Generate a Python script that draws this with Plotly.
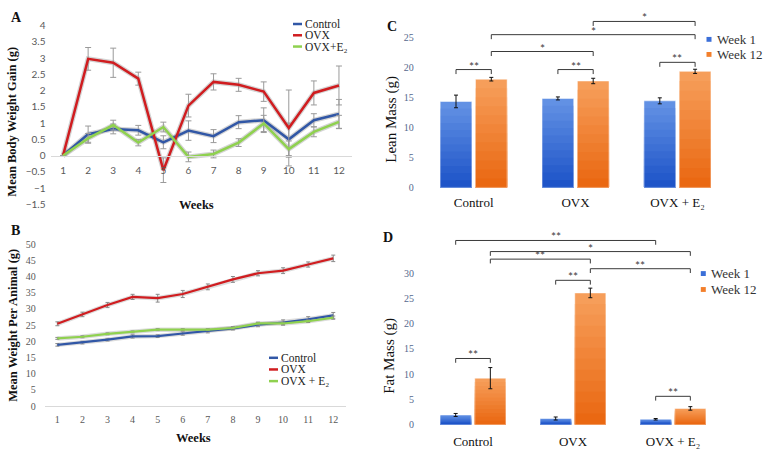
import plotly.graph_objects as go

W, H = 772, 460


def fx(p):
    return p / W


def fy(p):
    return 1 - p / H


# ---------------- data ----------------
weeks = list(range(1, 13))

# Panel A: mean body weight gain (g)
gain_control = [0, 0.66, 0.82, 0.78, 0.41, 0.77, 0.60, 1.03, 1.09, 0.50, 1.09, 1.28]
gain_ovx = [0, 2.98, 2.86, 2.37, -0.45, 1.54, 2.27, 2.18, 1.97, 0.85, 1.93, 2.16]
gain_e2 = [0, 0.53, 0.94, 0.40, 0.88, -0.04, 0.05, 0.40, 0.99, 0.20, 0.73, 1.04]
gain_control_err = [0, 0.25, 0.15, 0.15, 0.2, 0.3, 0.2, 0.2, 0.38, 0.5, 0.2, 0.45]
gain_ovx_err = [0, 0.35, 0.45, 0.2, 0.38, 0.35, 0.25, 0.2, 0.3, 1.17, 0.37, 0.6]
gain_e2_err = [0, 0.15, 0.15, 0.1, 0.15, 0.15, 0.12, 0.12, 0.25, 0.25, 0.15, 0.2]

# Panel B: mean weight per animal (g)
weight_control = [18.9, 19.6, 20.5, 21.5, 21.6, 22.4, 23.1, 24.0, 25.1, 25.8, 26.8, 28.0]
weight_ovx = [25.4, 28.3, 31.2, 33.7, 33.3, 34.6, 36.8, 39.1, 41.0, 41.8, 43.7, 45.6]
weight_e2 = [20.9, 21.4, 22.3, 22.9, 23.6, 23.6, 23.6, 24.1, 25.5, 25.5, 26.2, 27.3]
weight_control_err = [0.4, 0.4, 0.4, 0.5, 0.4, 0.5, 0.5, 0.5, 0.6, 0.8, 0.8, 0.9]
weight_ovx_err = [0.6, 0.7, 0.8, 0.8, 1.2, 1.1, 0.9, 0.9, 0.8, 0.9, 0.8, 1.0]
weight_e2_err = [0.3, 0.3, 0.3, 0.3, 0.3, 0.3, 0.3, 0.3, 0.4, 0.4, 0.4, 0.5]

line_names_a = ["Control", "OVX", "OVX+E\u2082"]
line_names_b = ["Control", "OVX", "OVX + E\u2082"]

# Panels C / D
categories = ["Control", "OVX", "OVX + E\u2082"]
bar_series = ["Week 1", "Week 12"]
lean_w1 = [14.3, 14.8, 14.4]
lean_w1_err = [1.05, 0.25, 0.5]
lean_w12 = [18.0, 17.7, 19.3]
lean_w12_err = [0.3, 0.45, 0.35]
fat_w1 = [1.9, 1.2, 1.05]
fat_w1_err = [0.3, 0.3, 0.15]
fat_w12 = [9.2, 26.1, 3.2]
fat_w12_err = [2.1, 0.95, 0.35]

# significance brackets: (group a, week index a, group b, week index b, level, label)
sig_c = [
    (0, 0, 0, 1, 19.6, "**"),
    (1, 0, 1, 1, 19.6, "**"),
    (2, 0, 2, 1, 20.8, "**"),
    (0, 1, 1, 1, 22.6, "*"),
    (0, 1, 2, 1, 25.4, "*"),
    (1, 1, 2, 1, 27.6, "*"),
]
sig_d = [
    (0, 0, 2, 0, 36.5, "**"),
    (0, 1, 2, 1, 34.3, "*"),
    (0, 1, 1, 1, 32.8, "**"),
    (1, 1, 2, 1, 30.9, "**"),
    (1, 0, 1, 1, 28.6, "**"),
    (0, 0, 0, 1, 13.1, "**"),
    (2, 0, 2, 1, 5.6, "**"),
]

# ---------------- style ----------------
line_colors = ["#3157a6", "#d01d20", "#8fd14f"]
bar_colors = ["#3b6fd8", "#f37f2b"]
bar_top = [(98, 145, 228), (246, 158, 90)]
bar_bottom = [(30, 84, 200), (234, 104, 18)]
SERIF = "Liberation Serif, Times New Roman, serif"
SANS = "Lato, Carlito, Calibri, sans-serif"
BARGAP = 0.307
BARGROUPGAP = 0.103
N_BANDS = 12

fig = go.Figure()

# ---------------- panel A ----------------
for ys in [gain_control, gain_ovx, gain_e2]:
    fig.add_trace(go.Scatter(x=weeks, y=ys, mode="lines", showlegend=False, hoverinfo="skip",
                             line=dict(color="rgba(60,60,60,0.22)", width=5),
                             xaxis="x", yaxis="y"))
for name, ys, es, col in zip(line_names_a, [gain_control, gain_ovx, gain_e2],
                             [gain_control_err, gain_ovx_err, gain_e2_err], line_colors):
    fig.add_trace(go.Scatter(
        x=weeks, y=ys, mode="lines", name=name, showlegend=False,
        line=dict(color=col, width=2.5),
        error_y=dict(type="data", array=es, color="#9a9a9a", thickness=1, width=3),
        xaxis="x", yaxis="y"))

# ---------------- panel B ----------------
for ys in [weight_control, weight_ovx, weight_e2]:
    fig.add_trace(go.Scatter(x=weeks, y=ys, mode="lines", showlegend=False, hoverinfo="skip",
                             line=dict(color="rgba(60,60,60,0.18)", width=4.5),
                             xaxis="x2", yaxis="y2"))
for name, ys, es, col in zip(line_names_b, [weight_control, weight_ovx, weight_e2],
                             [weight_control_err, weight_ovx_err, weight_e2_err], line_colors):
    fig.add_trace(go.Scatter(
        x=weeks, y=ys, mode="lines", name=name, showlegend=False,
        line=dict(color=col, width=2.2),
        error_y=dict(type="data", array=es, color="#8a8a8a", thickness=1, width=2),
        xaxis="x2", yaxis="y2"))

# ---------------- panels C and D (vertical gradient bars) ----------------
cat_idx = list(range(len(categories)))


def mix(c1, c2, t):
    return "rgb(%d,%d,%d)" % tuple(round(a + (b - a) * t) for a, b in zip(c1, c2))


for ax, vals, errs in [("3", [lean_w1, lean_w12], [lean_w1_err, lean_w12_err]),
                       ("4", [fat_w1, fat_w12], [fat_w1_err, fat_w12_err])]:
    for si, (sname, v, e) in enumerate(zip(bar_series, vals, errs)):
        # nested bands: tallest (lightest) first, shorter darker ones on top
        for k in range(N_BANDS):
            frac = (N_BANDS - k) / N_BANDS
            fig.add_trace(go.Bar(
                x=cat_idx, y=[val * frac for val in v], name=sname, showlegend=False,
                offsetgroup=sname, hoverinfo="skip",
                marker=dict(color=mix(bar_top[si], bar_bottom[si], k / (N_BANDS - 1)),
                            line=dict(width=0)),
                xaxis="x" + ax, yaxis="y" + ax))
        fig.add_trace(go.Bar(
            x=cat_idx, y=v, name=sname, showlegend=False, offsetgroup=sname,
            marker=dict(color="rgba(0,0,0,0)", line=dict(color="rgba(255,255,255,0.5)", width=1)),
            error_y=dict(type="data", array=e, color="#111111", thickness=1, width=2),
            xaxis="x" + ax, yaxis="y" + ax))

# ---------------- axes ----------------
A_dom_y = [fy(203.0), fy(19.3)]
A_range = [-1.5, 4]
zero_pos = A_dom_y[0] + (0 - A_range[0]) / (A_range[1] - A_range[0]) * (A_dom_y[1] - A_dom_y[0])

fig.update_layout(
    width=W, height=H,
    margin=dict(l=0, r=0, t=0, b=0),
    paper_bgcolor="white", plot_bgcolor="white",
    barmode="group", bargap=BARGAP, bargroupgap=BARGROUPGAP,
    showlegend=False,
    xaxis=dict(domain=[fx(50.5), fx(351.5)], range=[0.5, 12.5], anchor="free", position=zero_pos,
               tickvals=weeks, showgrid=False, zeroline=False, showline=True,
               linecolor="#d9d9d9", linewidth=1, ticks="",
               tickfont=dict(family=SANS, size=10, color="#595959"), ticklabelstandoff=5),
    yaxis=dict(domain=A_dom_y, range=A_range, dtick=0.5, showgrid=False, zeroline=False,
               showline=False, ticks="", anchor="x",
               tickfont=dict(family=SANS, size=10, color="#595959"), ticklabelstandoff=4),
    xaxis2=dict(domain=[fx(44.8), fx(345.8)], range=[0.5, 12.5], anchor="y2",
                tickvals=weeks, showgrid=False, zeroline=False, showline=True,
                linecolor="#d9d9d9", linewidth=1, ticks="",
                tickfont=dict(family=SERIF, size=10, color="#595959"), ticklabelstandoff=4),
    yaxis2=dict(domain=[fy(410.7), fy(244.0)], range=[0, 50], dtick=5, showgrid=False,
                zeroline=False, showline=False, ticks="", anchor="x2",
                tickfont=dict(family=SERIF, size=10, color="#595959"), ticklabelstandoff=8),
    xaxis3=dict(domain=[fx(422.7), fx(728.4)], range=[-0.5, 2.5], anchor="y3",
                tickvals=cat_idx, ticktext=categories, showgrid=False, zeroline=False,
                showline=False, ticks="",
                tickfont=dict(family=SERIF, size=13, color="#111111"), ticklabelstandoff=6),
    yaxis3=dict(domain=[fy(185.7), 1.0], range=[0, 30], tickvals=[0, 5, 10, 15, 20, 25],
                showgrid=False, zeroline=False, showline=False, ticks="", anchor="x3",
                tickfont=dict(family=SERIF, size=10, color="#55688e"), ticklabelstandoff=8),
    xaxis4=dict(domain=[fx(423.0), fx(723.0)], range=[-0.5, 2.5], anchor="y4",
                tickvals=cat_idx, ticktext=categories, showgrid=False, zeroline=False,
                showline=False, ticks="",
                tickfont=dict(family=SERIF, size=13, color="#111111"), ticklabelstandoff=7),
    yaxis4=dict(domain=[fy(429.7), fy(429.7 - 40 * 5.19)], range=[0, 40],
                tickvals=[0, 5, 10, 15, 20, 25, 30],
                showgrid=False, zeroline=False, showline=False, ticks="", anchor="x4",
                tickfont=dict(family=SERIF, size=10, color="#55688e"), ticklabelstandoff=8),
)

annotations = []
shapes = []


def ann(text, x, y, size, family=SERIF, bold=False, color="#111111", angle=0,
        xanchor="center", yanchor="middle"):
    annotations.append(dict(
        text=("<b>%s</b>" % text) if bold else text, x=fx(x), y=fy(y),
        xref="paper", yref="paper", showarrow=False, textangle=angle,
        xanchor=xanchor, yanchor=yanchor,
        font=dict(family=family, size=size, color=color)))


# panel letters
ann("A", 16, 11, 14, bold=True)
ann("B", 15, 230, 14, bold=True)
ann("C", 392, 20, 14, bold=True)
ann("D", 388, 237, 14, bold=True)

# axis titles
ann("Mean Body Weight Gain (g)", 12, 118, 12.5, bold=True, angle=-90)
ann("Weeks", 196, 204, 12.5, bold=True)
ann("Mean Weight Per Animal (g)", 13, 328, 12.5, bold=True, angle=-90)
ann("Weeks", 193, 444, 12.5, bold=True)
ann("Lean Mass (g)", 392, 116, 15, angle=-90)
ann("Fat Mass (g)", 390, 359, 15, angle=-90)

# line legends (A and B)
for names, x0, y0, dy in [(line_names_a, 293, 17.5, 11.6), (line_names_b, 269, 361, 12.0)]:
    for i, (nm, col) in enumerate(zip(names, line_colors)):
        yy = y0 + i * dy
        shapes.append(dict(type="line", xref="paper", yref="paper",
                           x0=fx(x0), x1=fx(x0 + 9), y0=fy(yy), y1=fy(yy),
                           line=dict(color=col, width=2.5)))
        ann(nm, x0 + 10, yy, 11.5, color="#222222", xanchor="left")

# bar legends (C and D)
for x0, y0, dy in [(709, 33.3, 15.5), (703.3, 274.3, 16.4)]:
    for i, (nm, col) in enumerate(zip(bar_series, bar_colors)):
        yy = y0 + i * dy
        shapes.append(dict(type="rect", xref="paper", yref="paper",
                           x0=fx(x0 - 2.5), x1=fx(x0 + 2.5), y0=fy(yy - 2.5), y1=fy(yy + 2.5),
                           fillcolor=col, line=dict(width=0)))
        ann(nm, x0 + 6, yy, 13, color="#333333", xanchor="left")

# significance brackets
half = (1 - BARGAP) / 4
for ax, sigs, leg in [("3", sig_c, 0.75), ("4", sig_d, 0.85)]:
    for ga, wa, gb, wb, lvl, lab in sigs:
        xa = ga + (half if wa else -half)
        xb = gb + (half if wb else -half)
        shapes.append(dict(type="path", xref="x" + ax, yref="y" + ax,
                           path="M %f,%f L %f,%f L %f,%f L %f,%f" % (
                               xa, lvl - leg, xa, lvl, xb, lvl, xb, lvl - leg),
                           line=dict(color="#3a3a3a", width=1)))
        annotations.append(dict(text=lab, x=(xa + xb) / 2, y=lvl, xref="x" + ax, yref="y" + ax,
                                showarrow=False, xanchor="center", yanchor="bottom", yshift=-6,
                                font=dict(family=SANS, size=12, color="#404040")))

fig.update_layout(annotations=annotations, shapes=shapes)

fig.write_html("out.html", config={"displayModeBar": False},
               post_script="document.body.style.margin='0px';")
